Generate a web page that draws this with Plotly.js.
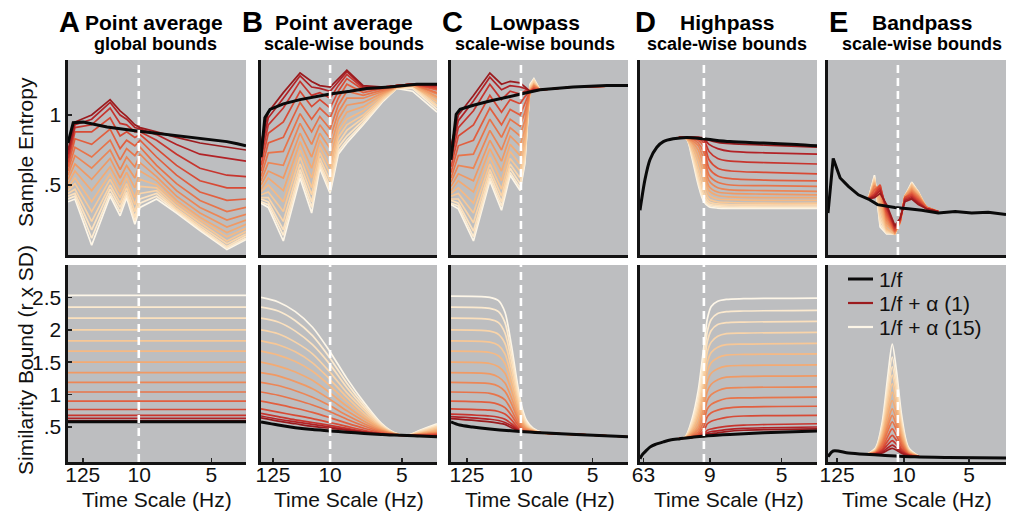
<!DOCTYPE html>
<html><head><meta charset="utf-8">
<script src="https://cdn.plot.ly/plotly-3.0.1.min.js"></script>
<style>html,body{margin:0;padding:0;background:#fff;}#chart{width:1017px;height:512px;}</style>
</head><body><div id="chart"></div>
<script>
// ---------------- DATA (scale index on x) ----------------
// series order: index 0 = 1/f + alpha(1) (dark red) ... index 14 = 1/f + alpha(15) (pale)
const tickLabels = ['125', '10', '5'];
const tickLabelsD = ['63', '9', '5'];
const tickPosA = [4.4, 17.4, 34], tickPosB = [3.8, 17.1, 33.8], tickPosC = [4.7, 17.2, 33.8];
const tickPosD = [1.8, 17.2, 33.8], tickPosE = [3.1, 18.5, 33.5];
const alphaLineScale = [17.3, 17.1, 17.2, 15.8, 17.1];   // dashed 10 Hz marker (A..E)
const alphaLineTopE = 1.08;                              // dashed marker stops here in E (bottom)

// ---- A top: Sample entropy, point average, global bounds (rows = scale points)
const A_top_x = [1, 2.6, 6.45, 10.7, 13, 14.5, 16.4, 17.6, 21.4, 26, 31.4, 37.6, 42];
const A_top_rows = [
 [0.75,0.72,0.69,0.66,0.63,0.60,0.57,0.54,0.51,0.48,0.46,0.44,0.42,0.40,0.38],
 [0.95,0.93,0.91,0.88,0.83,0.77,0.71,0.65,0.60,0.55,0.51,0.47,0.44,0.42,0.40],
 [1.00,0.97,0.93,0.88,0.79,0.70,0.62,0.54,0.46,0.38,0.31,0.24,0.18,0.12,0.07],
 [1.11,1.09,1.05,0.98,0.90,0.82,0.75,0.69,0.63,0.58,0.54,0.50,0.47,0.44,0.42],
 [1.03,1.00,0.94,0.85,0.76,0.68,0.61,0.55,0.50,0.45,0.41,0.37,0.34,0.31,0.28],
 [0.99,0.97,0.93,0.88,0.82,0.76,0.70,0.64,0.59,0.55,0.51,0.48,0.45,0.43,0.41],
 [0.93,0.91,0.88,0.84,0.78,0.71,0.63,0.55,0.48,0.41,0.36,0.31,0.27,0.245,0.22],
 [0.91,0.90,0.88,0.86,0.82,0.77,0.72,0.66,0.60,0.54,0.49,0.44,0.40,0.37,0.34],
 [0.88,0.86,0.82,0.76,0.70,0.64,0.60,0.56,0.53,0.50,0.48,0.46,0.44,0.42,0.40],
 [0.84,0.79,0.72,0.64,0.57,0.51,0.46,0.42,0.39,0.37,0.35,0.33,0.32,0.31,0.30],
 [0.80,0.72,0.62,0.53,0.45,0.39,0.34,0.30,0.27,0.25,0.23,0.21,0.195,0.185,0.175],
 [0.77,0.69,0.57,0.48,0.39,0.31,0.25,0.20,0.16,0.13,0.10,0.08,0.06,0.05,0.04],
 [0.75,0.67,0.56,0.48,0.40,0.34,0.29,0.25,0.22,0.19,0.17,0.15,0.135,0.12,0.11]
];
const A_top_black_x = [1, 2.2, 4.5, 10, 16, 23.7, 31.4, 37.6, 40, 42];
const A_top_black = [0.80, 0.945, 0.95, 0.915, 0.89, 0.86, 0.83, 0.81, 0.795, 0.78];

// ---- B top: point average, scale-wise bounds (rows = scale points)
const B_top_x = [1, 2.7, 6.2, 10.1, 12.8, 14.7, 17.1, 19, 21, 24.8, 29.5, 32.6, 36.3, 42];
const B_top_rows = [
 [0.80,0.74,0.69,0.64,0.60,0.56,0.53,0.50,0.47,0.45,0.43,0.41,0.40,0.38,0.37],
 [1.02,0.98,0.93,0.87,0.80,0.73,0.66,0.60,0.55,0.50,0.45,0.41,0.38,0.36,0.34],
 [1.16,1.12,1.05,0.95,0.84,0.74,0.64,0.55,0.46,0.38,0.31,0.24,0.18,0.14,0.10],
 [1.30,1.28,1.24,1.17,1.09,1.01,0.94,0.87,0.81,0.75,0.70,0.65,0.61,0.58,0.55],
 [1.24,1.20,1.14,1.06,0.97,0.88,0.79,0.70,0.62,0.55,0.48,0.43,0.38,0.34,0.30],
 [1.21,1.19,1.16,1.11,1.05,0.99,0.93,0.87,0.82,0.77,0.73,0.69,0.66,0.64,0.62],
 [1.20,1.17,1.12,1.05,0.98,0.90,0.83,0.76,0.69,0.63,0.58,0.53,0.49,0.46,0.44],
 [1.26,1.24,1.21,1.17,1.12,1.07,1.02,0.97,0.92,0.88,0.84,0.80,0.77,0.74,0.72],
 [1.32,1.31,1.29,1.26,1.22,1.17,1.12,1.07,1.02,0.97,0.93,0.89,0.85,0.82,0.80],
 [1.21,1.20,1.19,1.18,1.16,1.14,1.12,1.09,1.06,1.03,1.00,0.98,0.96,0.94,0.93],
 [1.20,1.20,1.20,1.19,1.19,1.18,1.17,1.16,1.15,1.14,1.13,1.12,1.11,1.11,1.10],
 [1.21,1.21,1.21,1.21,1.21,1.21,1.20,1.20,1.20,1.20,1.20,1.19,1.19,1.19,1.19],
 [1.22,1.22,1.22,1.22,1.22,1.22,1.22,1.22,1.21,1.21,1.21,1.21,1.20,1.19,1.17],
 [1.22,1.21,1.20,1.19,1.18,1.16,1.15,1.13,1.12,1.10,1.09,1.07,1.06,1.04,1.02]
];
const B_top_black_x = [1, 1.9, 3.1, 6.2, 10.1, 17.1, 21.7, 25.6, 31, 34.9, 37.3, 42];
const B_top_black = [0.70, 0.98, 1.04, 1.08, 1.11, 1.15, 1.17, 1.19, 1.20, 1.21, 1.22, 1.22];

// ---- C top: lowpass (rows = scale points)
const C_top_x = [1, 2.7, 6.2, 10, 12.7, 14.7, 17, 18.1, 19.3, 20.2, 21.6, 29.3, 42];
const C_top_rows = [
 [0.78,0.73,0.68,0.63,0.59,0.55,0.52,0.49,0.46,0.44,0.42,0.40,0.39,0.37,0.36],
 [1.00,0.96,0.91,0.85,0.78,0.71,0.64,0.58,0.53,0.48,0.44,0.40,0.37,0.35,0.33],
 [1.14,1.10,1.03,0.93,0.82,0.72,0.62,0.53,0.45,0.37,0.30,0.23,0.17,0.13,0.10],
 [1.30,1.27,1.22,1.14,1.05,0.97,0.89,0.82,0.76,0.70,0.65,0.61,0.58,0.55,0.53],
 [1.22,1.18,1.11,1.02,0.93,0.84,0.75,0.67,0.60,0.53,0.47,0.42,0.38,0.35,0.32],
 [1.24,1.21,1.17,1.11,1.04,0.97,0.91,0.85,0.79,0.74,0.69,0.65,0.62,0.59,0.57],
 [1.23,1.20,1.15,1.08,1.00,0.92,0.85,0.78,0.71,0.65,0.60,0.55,0.51,0.48,0.46],
 [1.20,1.19,1.17,1.13,1.08,1.02,0.96,0.90,0.85,0.80,0.76,0.72,0.69,0.67,0.65],
 [1.17,1.17,1.17,1.17,1.17,1.17,1.17,1.17,1.18,1.18,1.19,1.20,1.20,1.21,1.22],
 [1.17,1.18,1.18,1.19,1.19,1.20,1.21,1.21,1.22,1.22,1.23,1.24,1.25,1.25,1.26],
 [1.18,1.18,1.18,1.18,1.18,1.18,1.18,1.18,1.18,1.18,1.18,1.18,1.18,1.18,1.18],
 [1.20,1.20,1.20,1.20,1.20,1.20,1.20,1.20,1.20,1.20,1.20,1.20,1.20,1.20,1.20],
 [1.21,1.21,1.21,1.21,1.21,1.21,1.21,1.21,1.21,1.21,1.21,1.21,1.21,1.21,1.21]
];
const C_top_black_x = [1, 2.2, 3.1, 6.2, 10, 13.9, 17.2, 21.6, 29.3, 37.1, 42];
const C_top_black = [0.68, 1.005, 1.04, 1.07, 1.10, 1.125, 1.15, 1.18, 1.20, 1.21, 1.21];

// ---- D top: highpass (rows = series)
const D_top_x = [10, 11.8, 13, 14.5, 15.8, 17, 19, 22, 30, 42];
const D_top_series = [
 [0.84,0.84,0.84,0.84,0.835,0.82,0.805,0.795,0.785,0.77],
 [0.84,0.84,0.84,0.84,0.83,0.79,0.76,0.74,0.73,0.72],
 [0.84,0.84,0.84,0.835,0.82,0.74,0.69,0.67,0.66,0.65],
 [0.84,0.84,0.84,0.83,0.80,0.68,0.62,0.60,0.59,0.58],
 [0.84,0.84,0.83,0.82,0.77,0.62,0.565,0.545,0.535,0.53],
 [0.84,0.84,0.83,0.80,0.73,0.57,0.52,0.50,0.495,0.49],
 [0.84,0.84,0.82,0.78,0.68,0.53,0.48,0.465,0.46,0.455],
 [0.84,0.835,0.81,0.75,0.63,0.49,0.45,0.44,0.435,0.43],
 [0.84,0.83,0.80,0.71,0.58,0.46,0.425,0.415,0.41,0.41],
 [0.84,0.83,0.78,0.67,0.53,0.43,0.40,0.395,0.39,0.39],
 [0.84,0.83,0.76,0.62,0.48,0.40,0.38,0.375,0.37,0.37],
 [0.84,0.83,0.75,0.58,0.44,0.38,0.365,0.36,0.36,0.36],
 [0.84,0.83,0.73,0.55,0.41,0.365,0.355,0.35,0.35,0.35],
 [0.84,0.83,0.72,0.52,0.395,0.355,0.345,0.34,0.34,0.34],
 [0.84,0.83,0.70,0.50,0.38,0.345,0.335,0.333,0.333,0.333]
];
const D_top_black_x = [1, 2.16, 3.3, 4.9, 6.4, 8.7, 11.8, 15.8, 21.8, 29.6, 37.3, 42];
const D_top_black = [0.32, 0.54, 0.68, 0.77, 0.81, 0.83, 0.84, 0.83, 0.81, 0.80, 0.79, 0.78];

// ---- E top: bandpass (rows = series)
const E_top_x = [10.3, 11.7, 13, 14.5, 16.4, 17.6, 18.7, 20.3, 21.8, 23.7, 26.4];
const E_top_series = [
 [0.40,0.41,0.44,0.36,0.21,0.26,0.38,0.40,0.36,0.33,0.31],
 [0.40,0.42,0.46,0.35,0.20,0.26,0.39,0.41,0.37,0.33,0.31],
 [0.40,0.43,0.48,0.33,0.19,0.25,0.40,0.42,0.38,0.33,0.31],
 [0.40,0.44,0.50,0.31,0.18,0.24,0.41,0.43,0.39,0.33,0.31],
 [0.40,0.46,0.50,0.29,0.17,0.24,0.41,0.44,0.40,0.34,0.31],
 [0.40,0.47,0.49,0.27,0.17,0.24,0.41,0.45,0.41,0.34,0.31],
 [0.40,0.49,0.47,0.25,0.16,0.23,0.41,0.46,0.42,0.34,0.31],
 [0.40,0.50,0.44,0.23,0.16,0.23,0.42,0.47,0.42,0.34,0.31],
 [0.40,0.51,0.40,0.21,0.16,0.23,0.42,0.48,0.43,0.34,0.31],
 [0.40,0.52,0.36,0.19,0.15,0.24,0.42,0.49,0.44,0.34,0.31],
 [0.40,0.53,0.32,0.18,0.15,0.24,0.42,0.50,0.44,0.34,0.31],
 [0.40,0.54,0.28,0.17,0.15,0.24,0.42,0.50,0.45,0.34,0.31],
 [0.40,0.55,0.25,0.16,0.15,0.25,0.42,0.51,0.45,0.33,0.31],
 [0.40,0.56,0.22,0.155,0.15,0.25,0.42,0.51,0.45,0.33,0.31],
 [0.40,0.57,0.20,0.15,0.15,0.25,0.42,0.52,0.45,0.33,0.31]
];
const E_top_black_x = [1, 2.2, 3.8, 5.7, 8, 10.3, 12.4, 16.4, 19.5, 22.6, 26.4, 30.3, 34.1, 37.9, 42];
const E_top_black = [0.30, 0.69, 0.55, 0.49, 0.43, 0.40, 0.36, 0.34, 0.33, 0.32, 0.30, 0.31, 0.30, 0.305, 0.29];

// ---- A bottom: similarity bound, constant across scales (one level per series)
const A_bot_x = [1, 42];
const A_bot_levels = [0.60,0.635,0.68,0.77,0.90,1.04,1.19,1.34,1.50,1.67,1.83,2.00,2.18,2.35,2.53];
const A_bot_black = 0.58;

// ---- B bottom (rows = series)
const B_bot_x = [1, 5, 9, 13, 17, 21, 25, 29, 32, 35, 38, 42];
const B_bot_series = [
 [0.64,0.59,0.55,0.51,0.48,0.45,0.42,0.39,0.38,0.37,0.365,0.36],
 [0.67,0.62,0.58,0.54,0.50,0.46,0.42,0.39,0.38,0.37,0.365,0.36],
 [0.71,0.66,0.61,0.57,0.525,0.48,0.43,0.40,0.38,0.37,0.37,0.37],
 [0.78,0.73,0.68,0.63,0.57,0.51,0.45,0.40,0.38,0.37,0.37,0.38],
 [0.90,0.85,0.79,0.725,0.645,0.56,0.48,0.41,0.38,0.37,0.375,0.39],
 [1.04,0.99,0.92,0.84,0.74,0.62,0.515,0.425,0.385,0.37,0.38,0.40],
 [1.19,1.14,1.06,0.96,0.83,0.68,0.55,0.44,0.39,0.37,0.385,0.41],
 [1.34,1.29,1.20,1.09,0.93,0.75,0.59,0.455,0.39,0.37,0.39,0.42],
 [1.50,1.44,1.35,1.22,1.03,0.82,0.63,0.47,0.395,0.37,0.395,0.44],
 [1.67,1.61,1.51,1.36,1.14,0.89,0.67,0.485,0.40,0.37,0.40,0.46],
 [1.83,1.77,1.66,1.49,1.24,0.96,0.71,0.50,0.40,0.37,0.41,0.48],
 [2.00,1.94,1.81,1.63,1.35,1.03,0.76,0.51,0.405,0.37,0.42,0.50],
 [2.18,2.12,1.98,1.77,1.47,1.11,0.80,0.53,0.41,0.37,0.43,0.51],
 [2.35,2.29,2.14,1.91,1.57,1.18,0.84,0.545,0.41,0.37,0.44,0.53],
 [2.50,2.43,2.28,2.04,1.67,1.25,0.88,0.56,0.415,0.37,0.45,0.55]
];
const B_bot_black_x = [1, 5, 9, 13, 17, 21, 25, 29, 32, 35, 38, 42];
const B_bot_black = [0.577,0.53,0.49,0.46,0.44,0.42,0.40,0.385,0.375,0.37,0.36,0.35];

// ---- C bottom (rows = series)
const C_bot_x = [1, 10, 12, 13.5, 15, 16.5, 17.5, 18.5, 20, 22, 30, 42];
const C_bot_series = [
 [0.63,0.58,0.56,0.54,0.49,0.445,0.43,0.425,0.42,0.41,0.385,0.35],
 [0.66,0.62,0.60,0.57,0.52,0.455,0.43,0.425,0.42,0.41,0.385,0.35],
 [0.70,0.67,0.65,0.62,0.55,0.47,0.435,0.425,0.42,0.41,0.385,0.35],
 [0.78,0.76,0.74,0.70,0.61,0.49,0.44,0.43,0.42,0.41,0.385,0.35],
 [0.90,0.88,0.85,0.80,0.68,0.53,0.455,0.435,0.42,0.41,0.385,0.35],
 [1.04,1.02,0.98,0.92,0.76,0.57,0.475,0.44,0.425,0.41,0.385,0.35],
 [1.19,1.17,1.13,1.05,0.86,0.62,0.50,0.455,0.43,0.41,0.385,0.35],
 [1.34,1.32,1.27,1.18,0.95,0.67,0.53,0.47,0.435,0.41,0.385,0.35],
 [1.50,1.48,1.43,1.33,1.06,0.73,0.56,0.48,0.44,0.41,0.385,0.35],
 [1.67,1.65,1.60,1.48,1.17,0.79,0.59,0.495,0.445,0.41,0.385,0.35],
 [1.83,1.81,1.76,1.63,1.28,0.85,0.62,0.51,0.45,0.41,0.385,0.35],
 [2.00,1.98,1.93,1.79,1.40,0.91,0.66,0.53,0.455,0.41,0.385,0.35],
 [2.18,2.16,2.11,1.95,1.52,0.98,0.70,0.55,0.46,0.41,0.385,0.35],
 [2.35,2.33,2.28,2.11,1.64,1.05,0.74,0.57,0.47,0.415,0.385,0.35],
 [2.52,2.50,2.45,2.27,1.76,1.12,0.79,0.60,0.48,0.42,0.385,0.35]
];
const C_bot_black_x = [1, 3, 6, 10, 17, 22, 30, 42];
const C_bot_black = [0.58, 0.53, 0.50, 0.47, 0.43, 0.41, 0.385, 0.35];

// ---- D bottom (rows = series)
const D_bot_x = [10, 11.5, 13, 14.5, 15.8, 16.6, 17.5, 19, 21, 25, 42];
const D_bot_series = [
 [0.32,0.33,0.34,0.35,0.37,0.39,0.40,0.41,0.43,0.45,0.47],
 [0.32,0.33,0.34,0.35,0.38,0.41,0.43,0.44,0.46,0.48,0.50],
 [0.32,0.33,0.34,0.355,0.40,0.45,0.47,0.49,0.51,0.53,0.55],
 [0.32,0.33,0.345,0.37,0.44,0.55,0.59,0.62,0.65,0.67,0.68],
 [0.32,0.33,0.35,0.39,0.51,0.66,0.72,0.76,0.79,0.81,0.82],
 [0.32,0.33,0.36,0.42,0.59,0.78,0.85,0.90,0.94,0.95,0.96],
 [0.32,0.33,0.375,0.46,0.69,0.91,1.00,1.06,1.10,1.11,1.12],
 [0.32,0.33,0.39,0.51,0.80,1.05,1.16,1.23,1.27,1.28,1.29],
 [0.32,0.33,0.41,0.57,0.92,1.20,1.33,1.40,1.44,1.45,1.46],
 [0.32,0.335,0.435,0.65,1.05,1.35,1.49,1.57,1.61,1.62,1.63],
 [0.32,0.34,0.46,0.715,1.17,1.50,1.65,1.73,1.77,1.78,1.79],
 [0.32,0.34,0.49,0.79,1.30,1.66,1.81,1.90,1.94,1.95,1.96],
 [0.32,0.35,0.53,0.87,1.44,1.82,1.99,2.08,2.11,2.12,2.13],
 [0.32,0.35,0.56,0.96,1.59,1.98,2.16,2.25,2.28,2.29,2.30],
 [0.32,0.35,0.61,1.07,1.75,2.17,2.36,2.44,2.47,2.48,2.49]
];
const D_bot_black_x = [1, 1.5, 2.2, 3.3, 4.5, 6.4, 8, 10.3, 14.1, 18, 21.8, 29.6, 42];
const D_bot_black = [0.01, 0.07, 0.12, 0.19, 0.23, 0.27, 0.30, 0.32, 0.35, 0.37, 0.385, 0.41, 0.44];

// ---- E bottom (rows = series)
const E_bot_x = [10, 12, 13.5, 14.8, 15.8, 16.8, 18, 19.5, 22];
const E_bot_series = [
 [0.08,0.081,0.10,0.144,0.17,0.14,0.092,0.058,0.045],
 [0.08,0.084,0.117,0.18,0.22,0.176,0.11,0.062,0.045],
 [0.08,0.088,0.14,0.23,0.29,0.23,0.134,0.068,0.045],
 [0.08,0.093,0.16,0.29,0.37,0.29,0.16,0.074,0.045],
 [0.08,0.10,0.19,0.36,0.47,0.36,0.20,0.08,0.045],
 [0.08,0.105,0.225,0.44,0.58,0.45,0.235,0.09,0.045],
 [0.08,0.11,0.255,0.51,0.68,0.52,0.27,0.10,0.045],
 [0.08,0.12,0.285,0.58,0.78,0.60,0.305,0.11,0.045],
 [0.08,0.125,0.32,0.68,0.91,0.69,0.35,0.12,0.045],
 [0.08,0.13,0.36,0.77,1.04,0.79,0.40,0.13,0.045],
 [0.08,0.14,0.40,0.86,1.17,0.89,0.44,0.14,0.045],
 [0.08,0.15,0.44,0.96,1.30,0.99,0.49,0.15,0.045],
 [0.08,0.16,0.48,1.05,1.43,1.08,0.53,0.16,0.045],
 [0.08,0.17,0.52,1.16,1.58,1.20,0.585,0.17,0.045],
 [0.08,0.18,0.58,1.30,1.78,1.35,0.66,0.19,0.045]
];
const E_bot_black_x = [1, 2.2, 5.7, 9.5, 13.4, 21, 28.7, 42];
const E_bot_black = [0.04, 0.13, 0.10, 0.08, 0.065, 0.04, 0.03, 0.02];

const legendNames = ['1/f', '1/f + \u03b1 (1)', '1/f + \u03b1 (15)'];
const panelLetters = ['A', 'B', 'C', 'D', 'E'];
const titleLine1 = ['Point average', 'Point average', 'Lowpass', 'Highpass', 'Bandpass'];
const titleLine2 = ['global bounds', 'scale-wise bounds', 'scale-wise bounds', 'scale-wise bounds', 'scale-wise bounds'];
const yTitleTop = 'Sample Entropy', yTitleBottom = 'Similarity Bound (r x SD)', xTitle = 'Time Scale (Hz)';
const yTicksTop = [0.5, 1], yTickTextTop = ['.5', '1'];
const yTicksBottom = [0.5, 1, 1.5, 2, 2.5], yTickTextBottom = ['.5', '1', '1.5', '2', '2.5'];

// ---------------- STYLE / LAYOUT ----------------
const W = 1017, H = 512;
const FONT = 'Liberation Sans, Arial, Helvetica, sans-serif';
const colors = ['#9b1b1e','#b22226','#c7352e','#d84a35','#e25f3f','#e8744a','#ec8656','#f09964',
                '#f3aa73','#f5b984','#f7c796','#f9d4a9','#fbe0bd','#fceacf','#fdf6e8'];
const BLACK = '#0a0a0a';
const colPx = [[68, 246], [261, 437], [451, 628], [640, 817], [828, 1006]];
const rowPx = [[60, 255], [265, 462]];
const yRanges = [[0, 1.393], [-0.04, 3.0]];
const px = v => v / W, py = v => 1 - v / H;

function cols(rows) { return rows[0].map((_, k) => rows.map(r => r[k])); }

const panels = [
  {x: A_top_x, s: cols(A_top_rows), bx: A_top_black_x, b: A_top_black, shape: 'linear'},
  {x: B_top_x, s: cols(B_top_rows), bx: B_top_black_x, b: B_top_black, shape: 'linear'},
  {x: C_top_x, s: cols(C_top_rows), bx: C_top_black_x, b: C_top_black, shape: 'linear'},
  {x: D_top_x, s: D_top_series, bx: D_top_black_x, b: D_top_black, shape: 'spline'},
  {x: E_top_x, s: E_top_series, bx: E_top_black_x, b: E_top_black, shape: 'linear'},
  {x: A_bot_x, s: A_bot_levels.map(v => [v, v]), bx: A_bot_x, b: [A_bot_black, A_bot_black], shape: 'linear'},
  {x: B_bot_x, s: B_bot_series, bx: B_bot_black_x, b: B_bot_black, shape: 'spline'},
  {x: C_bot_x, s: C_bot_series, bx: C_bot_black_x, b: C_bot_black, shape: 'spline'},
  {x: D_bot_x, s: D_bot_series, bx: D_bot_black_x, b: D_bot_black, shape: 'spline'},
  {x: E_bot_x, s: E_bot_series, bx: E_bot_black_x, b: E_bot_black, shape: 'spline'}
];
const tickPos = [tickPosA, tickPosB, tickPosC, tickPosD, tickPosE];

const traces = [], shapes = [], annotations = [];
const layout = {
  width: W, height: H, margin: {l: 0, r: 0, t: 0, b: 0},
  paper_bgcolor: '#ffffff', plot_bgcolor: '#bdbec0',
  font: {family: FONT, size: 21, color: '#111'},
  showlegend: false,
  shapes: shapes, annotations: annotations
};

panels.forEach((p, idx) => {
  const row = idx < 5 ? 0 : 1, col = idx % 5, n = idx + 1;
  const xa = n === 1 ? 'x' : 'x' + n, ya = n === 1 ? 'y' : 'y' + n;
  for (let k = 14; k >= 0; k--) {
    traces.push({x: p.x, y: p.s[k], xaxis: xa, yaxis: ya, mode: 'lines', hoverinfo: 'skip',
      name: '1/f + \u03b1 (' + (k + 1) + ')',
      line: {color: colors[k], width: 1.7, shape: p.shape, smoothing: 0.8}});
  }
  traces.push({x: p.bx, y: p.b, xaxis: xa, yaxis: ya, mode: 'lines', hoverinfo: 'skip', name: '1/f',
    line: {color: BLACK, width: 3, shape: p.shape, smoothing: 0.8}});

  const xKey = n === 1 ? 'xaxis' : 'xaxis' + n, yKey = n === 1 ? 'yaxis' : 'yaxis' + n;
  layout[xKey] = {
    domain: [px(colPx[col][0]), px(colPx[col][1])], anchor: ya, range: [1, 42],
    showline: true, linecolor: '#141414', linewidth: 2.6, showgrid: false, zeroline: false,
    tickmode: 'array', tickvals: tickPos[col], ticktext: col === 3 ? tickLabelsD : tickLabels,
    showticklabels: row === 1, ticks: row === 1 ? 'inside' : '', ticklen: 4, tickwidth: 1.5,
    ticklabelstandoff: -8,
    tickcolor: '#222', tickfont: {family: FONT, size: 21, color: '#111'}, fixedrange: true
  };
  layout[yKey] = {
    domain: [py(rowPx[row][1]), py(rowPx[row][0])], anchor: xa, range: yRanges[row],
    showline: true, linecolor: '#141414', linewidth: 2.6, showgrid: false, zeroline: false,
    tickmode: 'array', tickvals: row === 0 ? yTicksTop : yTicksBottom,
    ticktext: row === 0 ? yTickTextTop : yTickTextBottom,
    showticklabels: col === 0, ticks: col === 0 ? 'inside' : '', ticklen: 4, tickwidth: 1.5,
    tickcolor: '#222', tickfont: {family: FONT, size: 21, color: '#111'}, fixedrange: true
  };

  // dashed 10 Hz marker
  const d = alphaLineScale[col];
  if (idx === 9) {
    shapes.push({type: 'line', xref: xa, yref: ya, x0: d, x1: d, y0: yRanges[1][0], y1: alphaLineTopE,
      line: {color: '#ffffff', width: 2.6, dash: '8px,5px'}, layer: 'above'});
  } else {
    shapes.push({type: 'line', xref: xa, yref: ya + ' domain', x0: d, x1: d, y0: 0, y1: 1,
      line: {color: '#ffffff', width: 2.6, dash: '8px,5px'}, layer: 'above'});
  }
});

// legend (panel E, bottom row): line sample + text
const legendColors = [BLACK, colors[0], colors[14]];
const legendWidths = [3, 2.2, 2.2];
const legendRowsY = [279, 303, 327];
for (let i = 0; i < 3; i++) {
  shapes.push({type: 'line', xref: 'paper', yref: 'paper', x0: px(848), x1: px(873),
    y0: py(legendRowsY[i]), y1: py(legendRowsY[i]), line: {color: legendColors[i], width: legendWidths[i]}, layer: 'above'});
  annotations.push({text: legendNames[i], x: px(877), y: py(legendRowsY[i]), xref: 'paper', yref: 'paper',
    showarrow: false, xanchor: 'left', yanchor: 'middle', font: {family: FONT, size: 21, color: '#111'}});
}

// titles
const letterX = [69, 252, 452, 645, 838];
const t1X = [154, 344, 535, 727, 922];
const t2X = [155, 344, 535, 727, 922];
for (let c = 0; c < 5; c++) {
  annotations.push({text: '<b>' + panelLetters[c] + '</b>', x: px(letterX[c]), y: py(22), xref: 'paper', yref: 'paper',
    showarrow: false, xanchor: 'center', yanchor: 'middle', font: {family: FONT, size: 29, color: '#000'}});
  annotations.push({text: '<b>' + titleLine1[c] + '</b>', x: px(t1X[c]), y: py(22), xref: 'paper', yref: 'paper',
    showarrow: false, xanchor: 'center', yanchor: 'middle', font: {family: FONT, size: 21, color: '#000'}});
  annotations.push({text: '<b>' + titleLine2[c] + '</b>', x: px(t2X[c]), y: py(44), xref: 'paper', yref: 'paper',
    showarrow: false, xanchor: 'center', yanchor: 'middle', font: {family: FONT, size: 18, color: '#000'}});
  annotations.push({text: xTitle, x: px((colPx[c][0] + colPx[c][1]) / 2), y: py(499), xref: 'paper', yref: 'paper',
    showarrow: false, xanchor: 'center', yanchor: 'middle', font: {family: FONT, size: 21, color: '#111'}});
}
annotations.push({text: yTitleTop, x: px(25), y: py(152), xref: 'paper', yref: 'paper', textangle: -90,
  showarrow: false, xanchor: 'center', yanchor: 'middle', font: {family: FONT, size: 21, color: '#111'}});
annotations.push({text: yTitleBottom, x: px(25), y: py(360), xref: 'paper', yref: 'paper', textangle: -90,
  showarrow: false, xanchor: 'center', yanchor: 'middle', font: {family: FONT, size: 21, color: '#111'}});

Plotly.newPlot('chart', traces, layout, {staticPlot: true, displayModeBar: false});
</script>
</body></html>
